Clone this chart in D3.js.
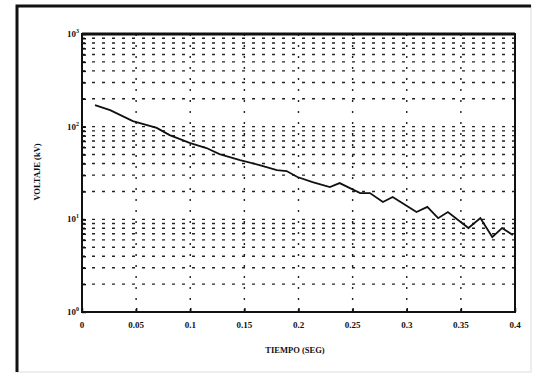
<!DOCTYPE html>
<html>
<head>
<meta charset="utf-8"/>
<script src="https://d3js.org/d3.v7.min.js"></script>
<style>
  body { margin: 0; background: #fff; }
  text { font-family: "Liberation Serif", serif; font-weight: bold; fill: #111; }
</style>
</head>
<body>
<div id="chart"></div>
<script>
// time (s) and voltage (kV)
const tiempo = [0.012, 0.026, 0.047, 0.069, 0.081, 0.100, 0.115, 0.127, 0.146, 0.164,
                0.180, 0.189, 0.199, 0.213, 0.229, 0.238, 0.257, 0.266, 0.278, 0.287,
                0.309, 0.319, 0.329, 0.338, 0.357, 0.368, 0.379, 0.388, 0.398]
const voltaje = [171, 151, 115, 97, 81, 66.5, 58.8, 50.6, 43.6, 38.5,
                 34.0, 33.2, 28.6, 25.2, 22.3, 24.6, 19.2, 19.2, 15.4, 17.4,
                 12.0, 13.6, 10.3, 12.0, 8.06, 10.3, 6.44, 8.06, 6.77]
const xTicks = [0, 0.05, 0.1, 0.15, 0.2, 0.25, 0.3, 0.35, 0.4]
const xTickLabels = ['0', '0.05', '0.1', '0.15', '0.2', '0.25', '0.3', '0.35', '0.4']
const yDecades = [1, 10, 100, 1000]
const yExponents = ['0', '1', '2', '3']

const width = 536, height = 375
const padL = 82, padR = 515, padT = 34, padB = 312

const svg = d3.select('#chart').append('svg')
  .attr('width', width).attr('height', height)

// scanned page frame
svg.append('rect').attr('x', 17).attr('y', 6).attr('width', 514).attr('height', 366)
  .attr('fill', 'none').attr('stroke', '#ddd').attr('stroke-width', 1)
svg.append('path').attr('d', 'M17,372 L17,6 L531,6')
  .attr('fill', 'none').attr('stroke', '#111').attr('stroke-width', 3)

const x = d3.scaleLinear().domain([0, 0.4]).range([padL, padR])
const y = d3.scaleLog().domain([1, 1000]).range([padB, padT])

// minor log values for grid
const minors = []
for (let k = 0; k < 3; k++) {
  for (let m = 2; m <= 10; m++) {
    const v = m * Math.pow(10, k)
    if (v < 1000) minors.push(v)
  }
}

const grid = svg.append('g')
grid.selectAll('line.h').data(minors).enter().append('line')
  .attr('class', 'h')
  .attr('x1', padL).attr('x2', padR)
  .attr('y1', d => y(d)).attr('y2', d => y(d))
  .attr('stroke', '#222').attr('stroke-width', 1.4)
  .attr('stroke-dasharray', '3,7')

grid.selectAll('line.v').data(xTicks.slice(1, -1)).enter().append('line')
  .attr('class', 'v')
  .attr('x1', d => x(d)).attr('x2', d => x(d))
  .attr('y1', padT).attr('y2', padB)
  .attr('stroke', '#222').attr('stroke-width', 1.4)
  .attr('stroke-dasharray', '2,9')

// left axis with inward ticks
const yAxis = d3.axisRight(y)
  .tickValues(minors.concat(yDecades))
  .tickSize(4).tickFormat('')
svg.append('g').attr('transform', 'translate(' + padL + ',0)').call(yAxis)
  .call(g => g.select('.domain').remove())
  .selectAll('line').attr('stroke', '#111').attr('stroke-width', 1.5)

const xAxis = d3.axisTop(x).tickValues(xTicks).tickSize(4).tickFormat('')
svg.append('g').attr('transform', 'translate(0,' + padB + ')').call(xAxis)
  .call(g => g.select('.domain').remove())
  .selectAll('line').attr('stroke', '#111').attr('stroke-width', 1.5)

// plot box
svg.append('rect').attr('x', padL).attr('y', padT)
  .attr('width', padR - padL).attr('height', padB - padT)
  .attr('fill', 'none').attr('stroke', '#111').attr('stroke-width', 2)
svg.append('line').attr('x1', padL).attr('x2', padR).attr('y1', padT).attr('y2', padT)
  .attr('stroke', '#111').attr('stroke-width', 3)

// tick labels
svg.selectAll('text.xl').data(xTicks).enter().append('text')
  .attr('class', 'xl')
  .attr('x', d => x(d)).attr('y', padB + 16)
  .attr('text-anchor', 'middle').attr('font-size', 9)
  .text((d, i) => xTickLabels[i])

const yl = svg.selectAll('text.yl').data(yDecades).enter().append('text')
  .attr('class', 'yl')
  .attr('x', padL - 3).attr('y', d => y(d) + 3)
  .attr('text-anchor', 'end').attr('font-size', 9)
yl.append('tspan').text('10')
yl.append('tspan').attr('dy', -4).attr('font-size', 6).text((d, i) => yExponents[i])

// axis titles
svg.append('text').attr('x', 295).attr('y', 353)
  .attr('text-anchor', 'middle').attr('font-size', 8.5)
  .text('TIEMPO (SEG)')
svg.append('text')
  .attr('transform', 'translate(40,172) rotate(-90)')
  .attr('text-anchor', 'middle').attr('font-size', 8.5)
  .text('VOLTAJE (kV)')

// curve
const pts = tiempo.map((t, i) => [t, voltaje[i]])
svg.append('path').datum(pts)
  .attr('d', d3.line().x(d => x(d[0])).y(d => y(d[1])))
  .attr('fill', 'none').attr('stroke', '#111').attr('stroke-width', 1.8)
</script>
</body>
</html>
